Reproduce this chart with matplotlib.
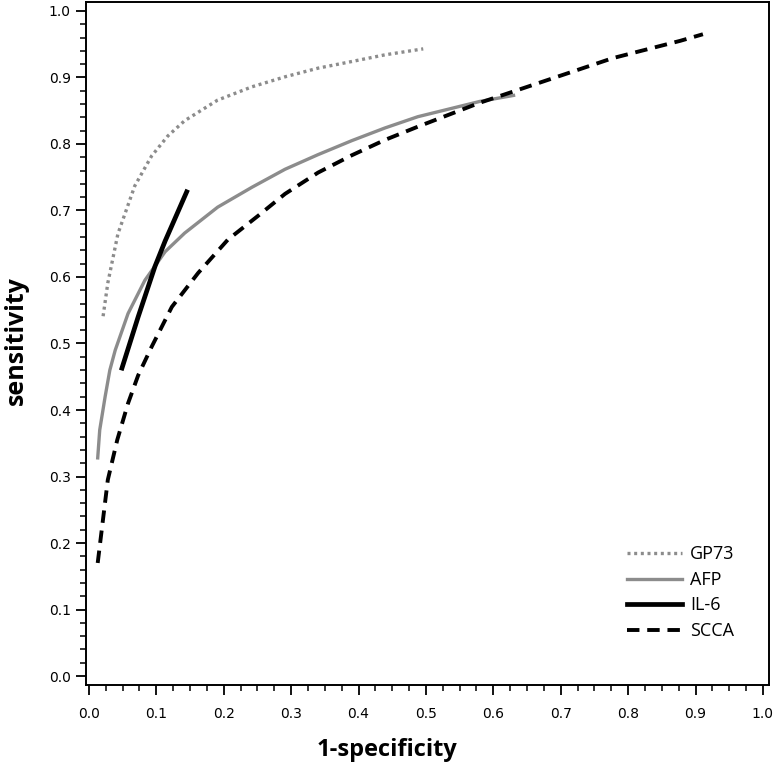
import matplotlib
matplotlib.use("Agg")
import matplotlib.pyplot as plt
from matplotlib.ticker import MultipleLocator

# ROC curves (1-specificity, sensitivity)
gp73_x = [0.021, 0.028, 0.043, 0.068, 0.093, 0.117, 0.142, 0.191, 0.242, 0.291, 0.340, 0.390, 0.439, 0.496]
gp73_y = [0.541, 0.591, 0.665, 0.737, 0.782, 0.812, 0.835, 0.866, 0.886, 0.901, 0.914, 0.924, 0.934, 0.943]

afp_x = [0.013, 0.016, 0.024, 0.031, 0.039, 0.058, 0.083, 0.113, 0.142, 0.191, 0.242, 0.291, 0.340, 0.390, 0.439, 0.488, 0.528, 0.580, 0.630]
afp_y = [0.328, 0.370, 0.420, 0.460, 0.490, 0.545, 0.595, 0.638, 0.666, 0.705, 0.735, 0.762, 0.784, 0.805, 0.824, 0.841, 0.851, 0.864, 0.873]

il6_x = [0.049, 0.073, 0.098, 0.113, 0.145]
il6_y = [0.463, 0.540, 0.616, 0.654, 0.728]

scca_x = [0.013, 0.019, 0.028, 0.042, 0.058, 0.073, 0.093, 0.123, 0.162, 0.206, 0.251, 0.291, 0.340, 0.390, 0.439, 0.488, 0.580, 0.680, 0.777, 0.877, 0.911]
scca_y = [0.170, 0.220, 0.295, 0.355, 0.410, 0.452, 0.495, 0.555, 0.606, 0.656, 0.692, 0.725, 0.757, 0.783, 0.806, 0.826, 0.862, 0.896, 0.929, 0.955, 0.965]

fig = plt.figure(figsize=(7.74, 7.64), dpi=100)
ax = fig.add_axes([0.111, 0.1034, 0.8825, 0.894])

ax.plot(gp73_x, gp73_y, color="#8c8c8c", lw=2.4, linestyle=(0, (0.9, 1.1)), label="GP73")
ax.plot(afp_x, afp_y, color="#8c8c8c", lw=2.4, label="AFP")
ax.plot(il6_x, il6_y, color="black", lw=3.4, label="IL-6")
ax.plot(scca_x, scca_y, color="black", lw=2.8, linestyle=(0, (3.2, 2.0)), label="SCCA")

ax.set_xlim(-0.0045, 1.009)
ax.set_ylim(-0.0135, 1.0135)

ax.xaxis.set_major_locator(MultipleLocator(0.1))
ax.xaxis.set_minor_locator(MultipleLocator(0.025))
ax.yaxis.set_major_locator(MultipleLocator(0.1))
ax.yaxis.set_minor_locator(MultipleLocator(0.02))
ax.xaxis.set_major_formatter(plt.FuncFormatter(lambda v, p: f"{v:.1f}"))
ax.yaxis.set_major_formatter(plt.FuncFormatter(lambda v, p: f"{v:.1f}"))

ax.tick_params(which="major", direction="out", length=7, width=1.3, labelsize=10, pad=4)
ax.tick_params(which="minor", direction="out", length=4, width=1.1)
ax.tick_params(axis="x", pad=9)
for s in ax.spines.values():
    s.set_linewidth(1.4)

ax.set_xlabel("1-specificity", fontsize=17, fontweight="bold", family="Open Sans")
ax.set_ylabel("sensitivity", fontsize=18, fontweight="bold", family="Open Sans")
ax.xaxis.set_label_coords(0.441, -0.077)
ax.yaxis.set_label_coords(-0.083, 0.505)

leg = ax.legend(loc="lower right", bbox_to_anchor=(0.973, 0.042), frameon=False,
                prop={"family": "Open Sans", "size": 13}, handlelength=3.0,
                handletextpad=0.45, labelspacing=0.42)

fig.savefig("out.png", dpi=100)
